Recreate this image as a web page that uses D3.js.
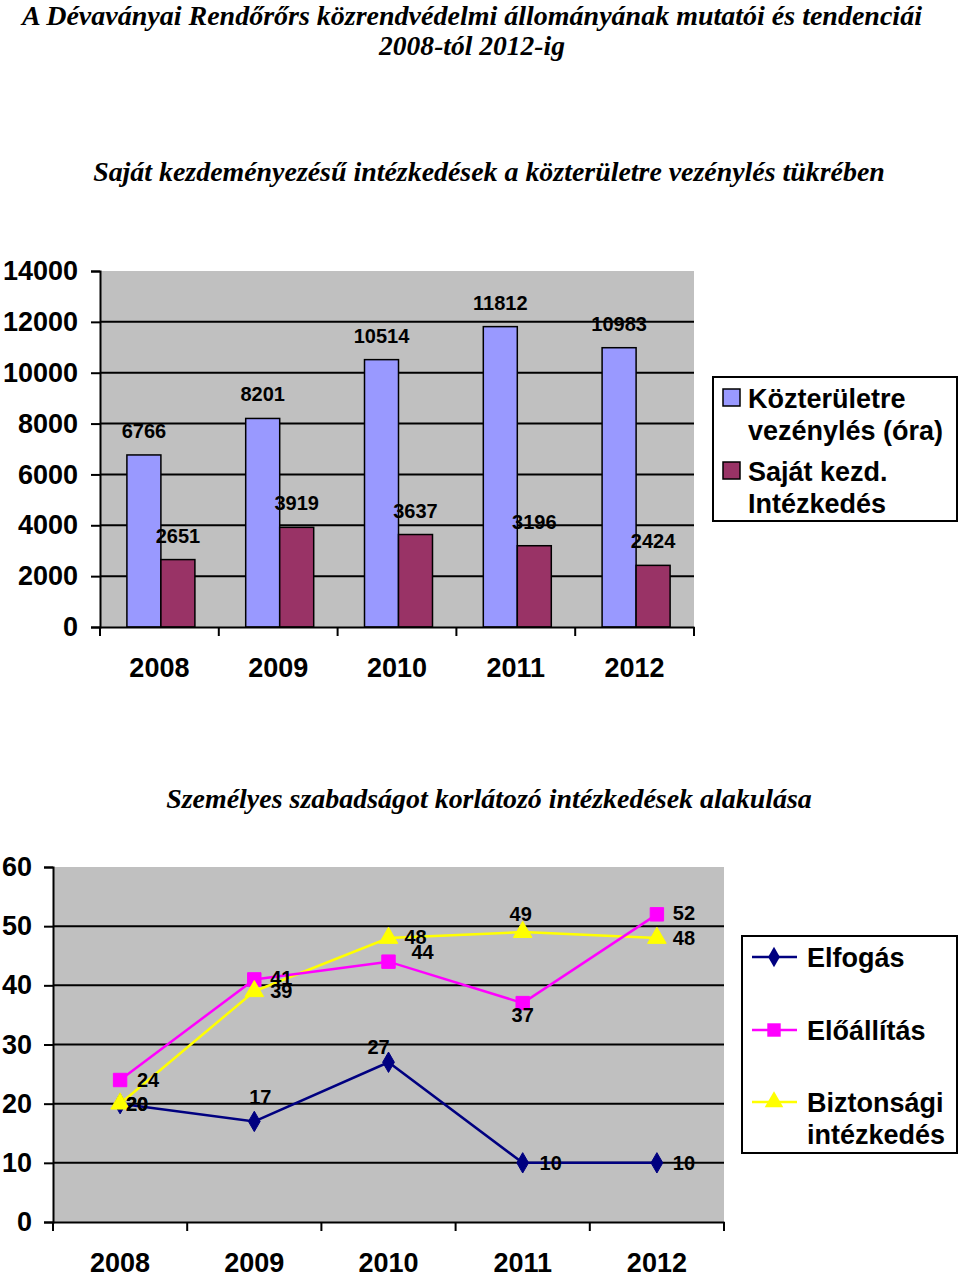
<!DOCTYPE html>
<html><head><meta charset="utf-8">
<script src="https://cdn.jsdelivr.net/npm/d3@7"></script>
<style>
body{margin:0;background:#fff;}
svg text{font-family:"Liberation Sans",Arial,sans-serif;}
.serif{font-family:"Liberation Serif","Times New Roman",serif !important;font-weight:bold;font-style:italic;}
</style></head>
<body>
<svg id="c" width="960" height="1277"></svg>
<script>
// ---- data ----
const years = ["2008","2009","2010","2011","2012"];
const barSeries = ["Közterületre vezénylés (óra)","Saját kezd. Intézkedés"];
const kozterulet = [6766, 8201, 10514, 11812, 10983];
const sajatKezd = [2651, 3919, 3637, 3196, 2424];
const topTicks = [0,2000,4000,6000,8000,10000,12000,14000];

const lineSeries = ["Elfogás","Előállítás","Biztonsági intézkedés"];
const elfogas = [20, 17, 27, 10, 10];
const eloallitas = [24, 41, 44, 37, 52];
const biztonsagi = [20, 39, 48, 49, 48];
const bottomTicks = [0,10,20,30,40,50,60];

const title1 = "A Dévaványai Rendőrőrs közrendvédelmi állományának mutatói és tendenciái";
const title2 = "2008-tól 2012-ig";
const sub1 = "Saját kezdeményezésű intézkedések a közterületre vezénylés tükrében";
const sub2 = "Személyes szabadságot korlátozó intézkedések alakulása";

// ---- styles ----
const barColors = ["#9999FF","#993366"];
const lineColors = ["#000080","#FF00FF","#FFFF00"];
const gray = "#C0C0C0";

const svg = d3.select("#c");

function fitText(sel, width){
  const w = sel.node().getComputedTextLength();
  const fs = parseFloat(sel.attr("font-size"));
  sel.attr("font-size", fs*width/w);
}

// titles
fitText(svg.append("text").attr("class","serif").attr("x",472).attr("y",25).attr("text-anchor","middle").attr("font-size",24).text(title1), 900);
fitText(svg.append("text").attr("class","serif").attr("x",472).attr("y",55).attr("text-anchor","middle").attr("font-size",24).text(title2), 186);
fitText(svg.append("text").attr("class","serif").attr("x",489).attr("y",181).attr("text-anchor","middle").attr("font-size",24).text(sub1), 792);
fitText(svg.append("text").attr("class","serif").attr("x",489).attr("y",808).attr("text-anchor","middle").attr("font-size",24).text(sub2), 646);

function styleAxisText(a){
  a.selectAll("text").attr("font-size",27).attr("font-weight","bold")
    .attr("font-family","Liberation Sans, Arial").attr("fill","#000");
}

// ---- top bar chart ----
{
  const x = d3.scaleBand().domain(years).range([100,694]);
  const x1 = d3.scaleBand().domain([0,1]).range([0,68]);
  const off = (x.bandwidth()-68)/2 + 1.5;
  const y = d3.scaleLinear().domain([0,14000]).range([627,271]);
  const g = svg.append("g");
  g.append("rect").attr("x",100).attr("y",y(14000)).attr("width",594).attr("height",y(0)-y(14000)).attr("fill",gray);

  const series = [kozterulet, sajatKezd];
  g.selectAll(null).data(topTicks.filter(t=>t>0&&t<14000)).join("line")
    .attr("x1",100).attr("x2",694).attr("y1",d=>y(d)).attr("y2",d=>y(d))
    .attr("stroke","#000").attr("stroke-width",2);
  series.forEach((arr,si)=>{
    g.selectAll(null).data(arr).join("rect")
      .attr("x",(d,i)=>x(years[i])+off+x1(si))
      .attr("width",x1.bandwidth())
      .attr("y",d=>y(d)).attr("height",d=>y(0)-y(d))
      .attr("fill",barColors[si]).attr("stroke","#000").attr("stroke-width",1.5);
  });
  series.forEach((arr,si)=>{
    g.selectAll(null).data(arr).join("text")
      .attr("x",(d,i)=>x(years[i])+off+x1(si)+x1.bandwidth()/2)
      .attr("y",d=>y(d)-17)
      .attr("text-anchor","middle").attr("font-size",20).attr("font-weight","bold")
      .text(d=>d);
  });
  const ya = g.append("g").attr("transform","translate(100,0)")
    .call(d3.axisLeft(y).tickValues(topTicks).tickSize(9).tickPadding(13).tickFormat(d3.format("d")));
  ya.select(".domain").attr("stroke-width",2);
  ya.selectAll(".tick line").attr("stroke-width",2);
  styleAxisText(ya);
  const xa = g.append("g").attr("transform",`translate(0,${y(0)})`)
    .call(d3.axisBottom(x).tickSize(0).tickPadding(31));
  xa.select(".domain").attr("stroke-width",2);
  styleAxisText(xa);
  g.selectAll(null).data(years.concat(["end"])).join("line")
    .attr("x1",(d,i)=>100+i*x.step()).attr("x2",(d,i)=>100+i*x.step())
    .attr("y1",y(0)).attr("y2",y(0)+9).attr("stroke","#000").attr("stroke-width",2);

  const lg = svg.append("g");
  lg.append("rect").attr("x",713).attr("y",377).attr("width",244).attr("height",144)
    .attr("fill","#fff").attr("stroke","#000").attr("stroke-width",2);
  const legLines = [["Közterületre","vezénylés (óra)"],["Saját kezd.","Intézkedés"]];
  legLines.forEach((ls,i)=>{
    const y0 = 389 + i*73;
    lg.append("rect").attr("x",723).attr("y",y0).attr("width",17).attr("height",17)
      .attr("fill",barColors[i]).attr("stroke","#000").attr("stroke-width",1.5);
    ls.forEach((t,j)=>lg.append("text").attr("x",748).attr("y",y0+19+j*32)
      .attr("font-size",27).attr("font-weight","bold").text(t));
  });
}

// ---- bottom line chart ----
{
  const x = d3.scaleBand().domain(years).range([53,724]);
  const y = d3.scaleLinear().domain([0,60]).range([1222,867]);
  const g = svg.append("g");
  g.append("rect").attr("x",53).attr("y",y(60)).attr("width",671).attr("height",y(0)-y(60)).attr("fill",gray);
  g.selectAll(null).data(bottomTicks.filter(t=>t>0&&t<60)).join("line")
    .attr("x1",53).attr("x2",724).attr("y1",d=>y(d)).attr("y2",d=>y(d))
    .attr("stroke","#000").attr("stroke-width",2);
  const ya = g.append("g").attr("transform","translate(53,0)")
    .call(d3.axisLeft(y).tickValues(bottomTicks).tickSize(9).tickPadding(12));
  ya.select(".domain").attr("stroke-width",2);
  ya.selectAll(".tick line").attr("stroke-width",2);
  styleAxisText(ya);
  const xa = g.append("g").attr("transform",`translate(0,${y(0)})`)
    .call(d3.axisBottom(x).tickSize(0).tickPadding(31));
  xa.select(".domain").attr("stroke-width",2);
  styleAxisText(xa);
  g.selectAll(null).data(years.concat(["end"])).join("line")
    .attr("x1",(d,i)=>53+i*x.step()).attr("x2",(d,i)=>53+i*x.step())
    .attr("y1",y(0)).attr("y2",y(0)+9).attr("stroke","#000").attr("stroke-width",2);

  const cx = d => x(d)+x.bandwidth()/2;
  const data = [elfogas, eloallitas, biztonsagi];
  const symbols = [d3.symbolDiamond, d3.symbolSquare, d3.symbolTriangle];
  const symSizes = [120, 180, 150];
  const line = d3.line().x((d,i)=>cx(years[i])).y(d=>y(d));
  [2,1,0].forEach(si=>{
    g.append("path").datum(data[si]).attr("d",line).attr("fill","none")
      .attr("stroke",lineColors[si]).attr("stroke-width",2.5);
  });
  [1,0,2].forEach(si=>{
    g.selectAll(null).data(data[si]).join("path")
      .attr("transform",(d,i)=>`translate(${cx(years[i])},${y(d)})`)
      .attr("d",d3.symbol().type(symbols[si]).size(symSizes[si]))
      .attr("fill",lineColors[si]).attr("stroke",lineColors[si]).attr("stroke-width",1);
  });
  const labelOffsets = [
    [[17,0],[6,-24],[-10,-15],[28,0],[27,0]],
    [[28,0],[27,-1],[34,-10],[0,12],[27,-1]],
    [[17,0],[27,0],[27,-1],[-2,-18],[27,0]]
  ];
  data.forEach((arr,si)=>{
    g.selectAll(null).data(arr).join("text")
      .attr("x",(d,i)=>cx(years[i])+labelOffsets[si][i][0])
      .attr("y",(d,i)=>y(d)+labelOffsets[si][i][1]+7)
      .attr("text-anchor","middle").attr("font-size",20).attr("font-weight","bold")
      .text(d=>d);
  });

  const lg = svg.append("g");
  lg.append("rect").attr("x",742).attr("y",936).attr("width",215).attr("height",217)
    .attr("fill","#fff").attr("stroke","#000").attr("stroke-width",2);
  const legY = [957, 1030, 1102];
  const legText = [["Elfogás"],["Előállítás"],["Biztonsági","intézkedés"]];
  legText.forEach((ls,i)=>{
    lg.append("line").attr("x1",752).attr("x2",797).attr("y1",legY[i]).attr("y2",legY[i])
      .attr("stroke",lineColors[i]).attr("stroke-width",2.5);
    lg.append("path").attr("transform",`translate(774,${legY[i]})`)
      .attr("d",d3.symbol().type(symbols[i]).size(symSizes[i])).attr("fill",lineColors[i]);
    ls.forEach((t,j)=>lg.append("text").attr("x",807).attr("y",legY[i]+10+j*32)
      .attr("font-size",27).attr("font-weight","bold").text(t));
  });
}
</script>
</body></html>
